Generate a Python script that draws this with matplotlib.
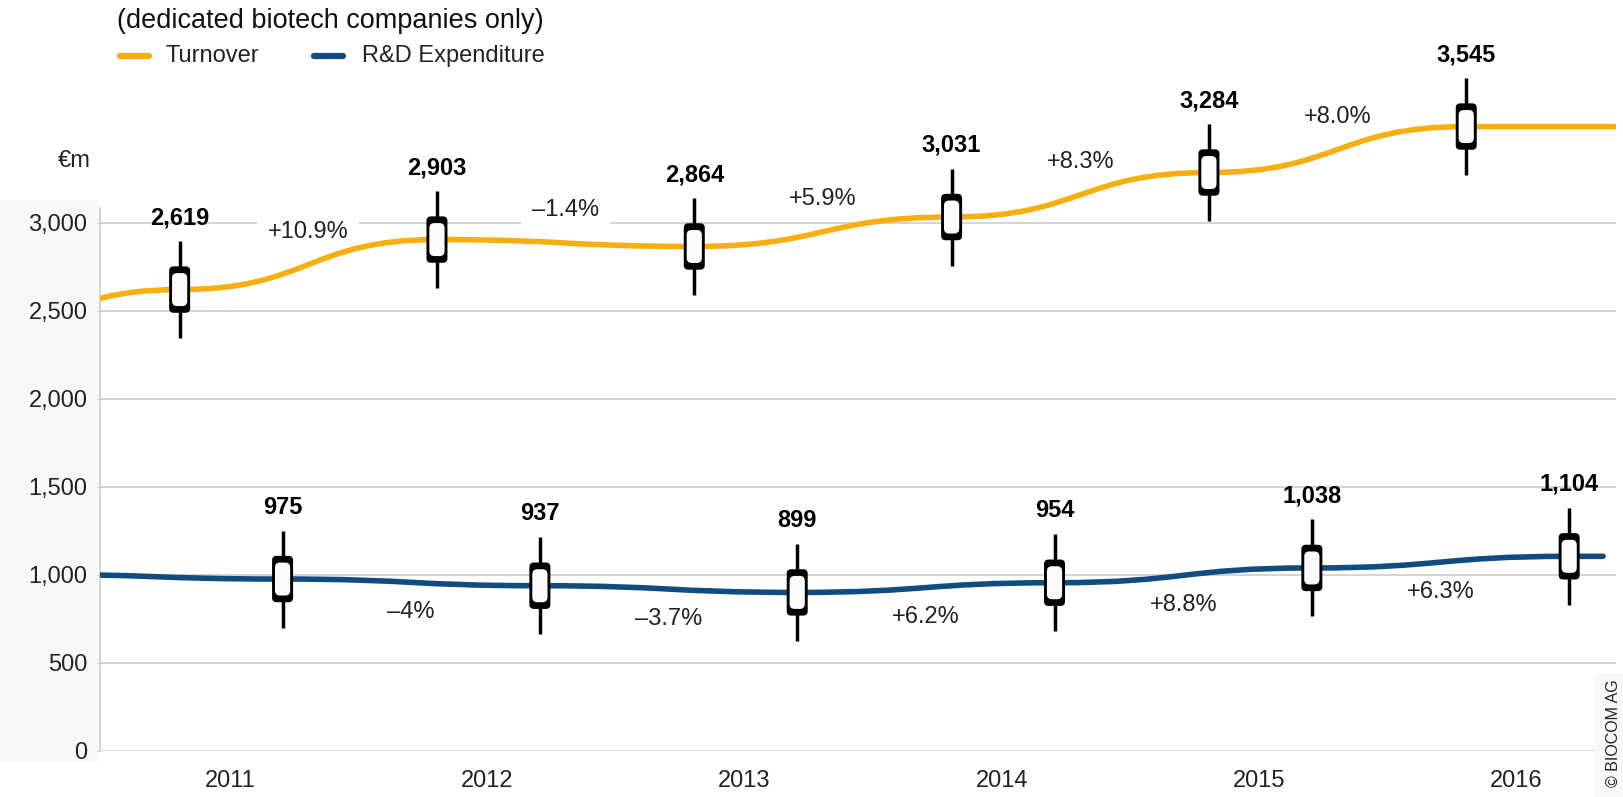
import matplotlib
matplotlib.use('Agg')
import matplotlib.pyplot as plt
from matplotlib.path import Path
from matplotlib.patches import PathPatch, FancyBboxPatch, Rectangle
from matplotlib.lines import Line2D
from matplotlib.transforms import ScaledTranslation
from matplotlib.ticker import FuncFormatter

plt.rcParams['font.family'] = ['Liberation Sans', 'DejaVu Sans']

# data (EUR m, dedicated biotech companies)
years = [2011, 2012, 2013, 2014, 2015, 2016]
turnover = [2619, 2903, 2864, 3031, 3284, 3545]
rd_spend = [975, 937, 899, 954, 1038, 1104]
turnover_pct = ['+10.9%', '\u20131.4%', '+5.9%', '+8.3%', '+8.0%']
rd_pct = ['\u20134%', '\u20133.7%', '+6.2%', '+8.8%', '+6.3%']
# previous year values, only the tail of the curve is visible at the left edge
turnover_prev = 2330
rd_prev = 1002
yticks = [0, 500, 1000, 1500, 2000, 2500, 3000]

ORANGE = '#F7AF10'
BLUE = '#104C80'
GRID = '#C9C9C9'

W, H = 1623, 797
fig = plt.figure(figsize=(W / 100, H / 100), dpi=100)


def fx(px):
    return px / W


def fy(py):
    return 1 - py / H


# faint panels behind the y labels and the copyright
fig.add_artist(Rectangle((0, fy(762)), fx(98), fy(200) - fy(762), transform=fig.transFigure,
                         fc='#F8F8F8', ec='none', zorder=-1))

ax = fig.add_axes([fx(100), fy(750.7), fx(1616) - fx(100), fy(60) - fy(750.7)])
ax.patch.set_visible(False)
x_lo, x_hi = 2010.4955, 2016.387
y_top = 3923
ax.set_xlim(x_lo, x_hi)
ax.set_ylim(0, y_top)

for s in ['top', 'right', 'bottom']:
    ax.spines[s].set_visible(False)
ax.spines['left'].set_color(GRID)
ax.spines['left'].set_linewidth(1.1)
ax.spines['left'].set_bounds(0, 3083)

ax.set_yticks(yticks)
ax.yaxis.set_major_formatter(FuncFormatter(lambda v, p: f'{v:,.0f}'))
ax.grid(axis='y', color=GRID, lw=1.1)
ax.set_axisbelow(True)
ax.tick_params(axis='y', length=2, color=GRID, pad=7, labelsize=17, labelcolor='#222222')
ax.set_xticks(years)
ax.set_xticklabels([str(y) for y in years])
ax.tick_params(axis='x', length=0, pad=14, labelsize=17, labelcolor='#222222')

T_OFF, R_OFF = -0.195, 0.205
tx = [y + T_OFF for y in years]
rx = [y + R_OFF for y in years]


def smooth_line(xs, ys, color):
    verts = [(xs[0], ys[0])]
    codes = [Path.MOVETO]
    for i in range(1, len(xs)):
        dx = (xs[i] - xs[i - 1]) / 2
        verts += [(xs[i - 1] + dx, ys[i - 1]), (xs[i] - dx, ys[i]), (xs[i], ys[i])]
        codes += [Path.CURVE4] * 3
    ax.add_patch(PathPatch(Path(verts, codes), fill=False, ec=color, lw=4,
                           capstyle='round', zorder=3))


smooth_line([2010 + T_OFF] + tx + [x_hi + 0.1], [turnover_prev] + turnover + [turnover[-1]], ORANGE)
smooth_line([2010 + R_OFF] + rx + [2016.337], [rd_prev] + rd_spend + [rd_spend[-1]], BLUE)


def candle(x, y):
    tr = fig.dpi_scale_trans + ScaledTranslation(x, y, ax.transData)
    ax.add_line(Line2D([0, 0], [-0.485, 0.485], transform=tr, color='black', lw=2.5,
                       solid_capstyle='butt', clip_on=False, zorder=5))
    ax.add_patch(FancyBboxPatch((-0.105, -0.232), 0.21, 0.464,
                                boxstyle='round,pad=0,rounding_size=0.045', transform=tr,
                                fc='black', ec='none', clip_on=False, zorder=6))
    ax.add_patch(FancyBboxPatch((-0.076, -0.165), 0.152, 0.33,
                                boxstyle='round,pad=0,rounding_size=0.05', transform=tr,
                                fc='#FBFBFB', ec='none', clip_on=False, zorder=7))


for xs, vals in [(tx, turnover), (rx, rd_spend)]:
    for x, v in zip(xs, vals):
        candle(x, v)
        ax.annotate(f'{v:,}', xy=(x, v), xytext=(0, 51.8), textcoords='offset points',
                    ha='center', va='center', fontsize=17, fontweight='bold', zorder=8)

for i, lab in enumerate(turnover_pct):
    xm = (tx[i] + tx[i + 1]) / 2
    ym = (turnover[i] + turnover[i + 1]) / 2
    ax.annotate(lab, xy=(xm, ym), xytext=(0, 23.5), textcoords='offset points',
                ha='center', va='center', fontsize=17, color='#222222', zorder=2.5,
                bbox=dict(boxstyle='square,pad=0.45', fc='white', ec='none'))

for i, lab in enumerate(rd_pct):
    xm = (rx[i] + rx[i + 1]) / 2
    ym = (rd_spend[i] + rd_spend[i + 1]) / 2
    ax.annotate(lab, xy=(xm, ym), xytext=(0, -21.5), textcoords='offset points',
                ha='center', va='center', fontsize=17, color='#222222', zorder=2.5)

ax.set_xlim(x_lo, x_hi)
ax.set_ylim(0, y_top)

# unit, title, legend
fig.text(fx(91), fy(161), '\u20acm', ha='right', va='center', fontsize=17, color='#222222')
fig.text(fx(117), fy(21), '(dedicated biotech companies only)', ha='left', va='center',
         fontsize=19.5, color='#111111')
fig.add_artist(Line2D([fx(120), fx(149)], [fy(56), fy(56)], transform=fig.transFigure,
                      color=ORANGE, lw=4.5, solid_capstyle='round'))
fig.text(fx(166), fy(56), 'Turnover', ha='left', va='center', fontsize=17, color='#222222')
fig.add_artist(Line2D([fx(314), fx(343)], [fy(56), fy(56)], transform=fig.transFigure,
                      color=BLUE, lw=4.5, solid_capstyle='round'))
fig.text(fx(362), fy(56), 'R&D Expenditure', ha='left', va='center', fontsize=17, color='#222222')

# copyright strip
fig.add_artist(Rectangle((fx(1595), 0), fx(W) - fx(1595), fy(673), transform=fig.transFigure,
                         fc='#F8F8F8', ec='none', zorder=2))
fig.text(fx(1613), fy(733), '\u00a9 BIOCOM AG', rotation=90, ha='center', va='center',
         fontsize=11.5, color='#222222', zorder=3)

fig.savefig('out.png', dpi=100)
